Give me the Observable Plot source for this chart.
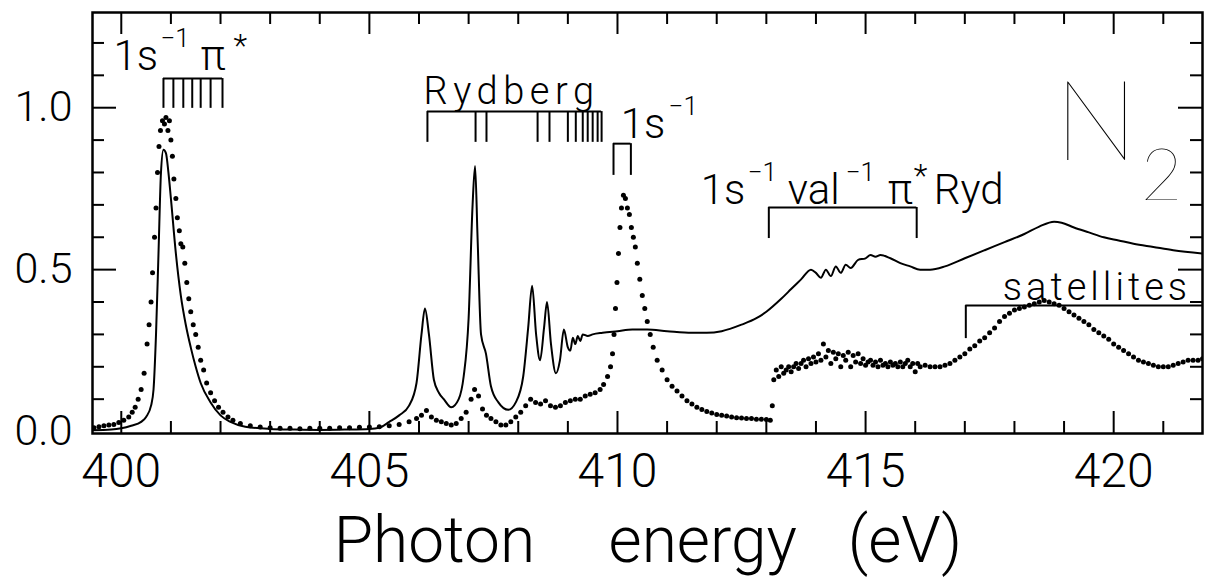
<!DOCTYPE html>
<html><head><meta charset="utf-8">
<script src="https://cdn.jsdelivr.net/npm/d3@7"></script>
<script src="https://cdn.jsdelivr.net/npm/@observablehq/plot@0.6"></script>
<style>
body{margin:0;background:#fff;}
</style></head><body><div id="chart"></div>
<script>
// ---- data ----
const solidEnergy = [
 399.42, 399.8, 400.0, 400.2, 400.4, 400.5, 400.6, 400.65, 400.7, 400.75,
 400.8, 400.85, 400.9, 400.95, 401.0, 401.1, 401.2, 401.3, 401.4, 401.5,
 401.6, 401.8, 402.0, 402.2, 402.5, 403.0, 403.5, 404.0, 404.5, 405.0,
 405.2, 405.4, 405.6, 405.8, 405.95, 406.05, 406.12, 406.2, 406.3, 406.4,
 406.5, 406.65, 406.8, 406.9, 407.0, 407.08, 407.13, 407.18, 407.25, 407.35,
 407.45, 407.6, 407.8, 407.95, 408.1, 408.2, 408.28, 408.36, 408.44, 408.52,
 408.58, 408.66, 408.76, 408.84, 408.92, 409.0, 409.05, 409.1, 409.15, 409.2,
 409.25, 409.3, 409.4, 409.5, 409.7, 410.0, 410.3, 410.6, 411.0, 411.5,
 411.8, 412.1, 412.5, 412.8, 413.0, 413.3, 413.5, 413.7, 413.9, 414.0,
 414.1, 414.2, 414.3, 414.4, 414.5, 414.6, 414.7, 414.85, 415.0, 415.1,
 415.2, 415.3, 415.5, 415.7, 415.9, 416.1, 416.3, 416.6, 417.0, 417.4,
 417.8, 418.2, 418.5, 418.8, 418.95, 419.2, 419.5, 419.8, 420.1, 420.4,
 420.8, 421.2, 421.79];
const solidValue = [
 0.004, 0.006, 0.01, 0.018, 0.03, 0.045, 0.08, 0.13, 0.3, 0.55,
 0.8, 0.87, 0.86, 0.8, 0.72, 0.55, 0.42, 0.33, 0.26, 0.2,
 0.15, 0.09, 0.05, 0.03, 0.015, 0.008, 0.006, 0.005, 0.006, 0.008,
 0.012, 0.03, 0.05, 0.08, 0.15, 0.3, 0.38, 0.3, 0.16, 0.12,
 0.1, 0.075, 0.1, 0.17, 0.35, 0.7, 0.82, 0.6, 0.3, 0.24,
 0.14, 0.09, 0.067, 0.09, 0.17, 0.32, 0.45, 0.3, 0.22, 0.32,
 0.40, 0.27, 0.18, 0.22, 0.315, 0.26, 0.25, 0.29, 0.27, 0.295,
 0.28, 0.3, 0.295, 0.3, 0.305, 0.31, 0.315, 0.315, 0.31, 0.305,
 0.305, 0.31, 0.33, 0.35, 0.37, 0.41, 0.44, 0.47, 0.5, 0.49,
 0.475, 0.5, 0.48, 0.51, 0.49, 0.515, 0.505, 0.53, 0.535, 0.545,
 0.54, 0.545, 0.535, 0.52, 0.51, 0.5, 0.5, 0.51, 0.535, 0.56,
 0.585, 0.61, 0.633, 0.648, 0.645, 0.63, 0.615, 0.6, 0.59, 0.58,
 0.57, 0.56, 0.55];

const dotEnergy = [
 399.45, 399.55, 399.65, 399.75, 399.85, 399.95, 400.05, 400.15, 400.22, 400.28,
 400.34, 400.4, 400.46, 400.52, 400.56, 400.6, 400.63, 400.67, 400.7, 400.73,
 400.76, 400.79, 400.83, 400.87, 400.9, 400.94, 400.97, 401.0, 401.03, 401.06,
 401.1, 401.13, 401.17, 401.2, 401.24, 401.28, 401.32, 401.36, 401.4, 401.45,
 401.5, 401.55, 401.6, 401.66, 401.72, 401.8, 401.88, 401.96, 402.05, 402.15,
 402.25, 402.4, 402.6, 402.8, 403.0, 403.2, 403.4, 403.6, 403.8, 404.0,
 404.2, 404.4, 404.6, 404.8, 405.0, 405.2, 405.4, 405.6, 405.8, 405.95,
 406.05, 406.15, 406.25, 406.35, 406.45, 406.55, 406.65, 406.75, 406.85, 406.95,
 407.05, 407.12, 407.2, 407.28, 407.36, 407.45, 407.55, 407.65, 407.75, 407.85,
 407.95, 408.05, 408.15, 408.25, 408.35, 408.45, 408.55, 408.65, 408.75, 408.85,
 408.95, 409.05, 409.15, 409.25, 409.35, 409.45, 409.55, 409.65, 409.72, 409.8,
 409.86, 409.9, 409.93, 409.96, 409.99, 410.02, 410.05, 410.08, 410.12, 410.16,
 410.2, 410.24, 410.28, 410.32, 410.36, 410.4, 410.45, 410.5, 410.55, 410.6,
 410.66, 410.72, 410.8, 410.9, 411.0, 411.1, 411.2, 411.3, 411.4, 411.5,
 411.6, 411.7, 411.8, 411.9, 412.0, 412.1, 412.2, 412.3, 412.4, 412.5,
 412.6, 412.7, 412.8, 412.9, 413.0, 413.08, 413.12, 413.15, 413.2, 413.25,
 413.3, 413.35, 413.4, 413.45, 413.5, 413.55, 413.6, 413.65, 413.7, 413.75,
 413.8, 413.85, 413.9, 413.95, 414.0, 414.05, 414.1, 414.15, 414.2, 414.25,
 414.3, 414.35, 414.4, 414.45, 414.5, 414.55, 414.6, 414.65, 414.7, 414.75,
 414.8, 414.85, 414.9, 414.95, 415.0, 415.05, 415.1, 415.15, 415.2, 415.25,
 415.3, 415.35, 415.4, 415.45, 415.5, 415.55, 415.6, 415.65, 415.7, 415.75,
 415.8, 415.85, 415.9, 415.95, 416.0, 416.05, 416.1, 416.2, 416.3, 416.4,
 416.5, 416.6, 416.7, 416.8, 416.9, 417.0, 417.1, 417.2, 417.3, 417.4,
 417.5, 417.6, 417.7, 417.8, 417.9, 418.0, 418.1, 418.2, 418.3, 418.4,
 418.5, 418.6, 418.7, 418.8, 418.9, 419.0, 419.1, 419.2, 419.3, 419.4,
 419.5, 419.6, 419.7, 419.8, 419.9, 420.0, 420.1, 420.2, 420.3, 420.4,
 420.5, 420.6, 420.7, 420.8, 420.9, 421.0, 421.1, 421.2, 421.3, 421.4,
 421.5, 421.6, 421.7, 421.79];
const dotValue = [
 0.012, 0.015, 0.018, 0.02, 0.022, 0.028, 0.035, 0.045, 0.06, 0.075,
 0.1, 0.13, 0.18, 0.27, 0.33, 0.4, 0.49, 0.6, 0.69, 0.8,
 0.88, 0.93, 0.96, 0.95, 0.97, 0.93, 0.96, 0.9, 0.85, 0.78,
 0.72, 0.66, 0.62, 0.58, 0.57, 0.52, 0.46, 0.41, 0.37, 0.33,
 0.3, 0.26, 0.22, 0.19, 0.15, 0.12, 0.095, 0.075, 0.06, 0.045,
 0.035, 0.025, 0.018, 0.014, 0.012, 0.01, 0.01, 0.009, 0.01, 0.01,
 0.01, 0.012, 0.012, 0.013, 0.014, 0.015, 0.018, 0.022, 0.03, 0.04,
 0.05, 0.065, 0.045, 0.035, 0.03, 0.025, 0.02, 0.025, 0.04, 0.06,
 0.1, 0.13, 0.11, 0.07, 0.05, 0.04, 0.03, 0.02, 0.02, 0.03,
 0.045, 0.06, 0.08, 0.1, 0.09, 0.085, 0.095, 0.08, 0.075, 0.08,
 0.09, 0.095, 0.1, 0.1, 0.11, 0.115, 0.12, 0.13, 0.145, 0.17,
 0.2, 0.24, 0.3, 0.38, 0.46, 0.55, 0.63, 0.69, 0.73, 0.72,
 0.69, 0.67, 0.63, 0.6, 0.57, 0.52, 0.47, 0.42, 0.38, 0.34,
 0.3, 0.26, 0.22, 0.19, 0.16, 0.14, 0.125, 0.11, 0.095, 0.085,
 0.075, 0.068, 0.062, 0.057, 0.053, 0.05, 0.048, 0.045, 0.043, 0.042,
 0.04, 0.04, 0.038, 0.038, 0.037, 0.035, 0.08, 0.16, 0.19, 0.17,
 0.2, 0.18, 0.19, 0.2, 0.185, 0.2, 0.21, 0.195, 0.21, 0.22,
 0.2, 0.225, 0.21, 0.23, 0.215, 0.24, 0.22, 0.27, 0.23, 0.25,
 0.21, 0.245, 0.225, 0.24, 0.2, 0.235, 0.22, 0.245, 0.2, 0.235,
 0.215, 0.24, 0.21, 0.225, 0.205, 0.215, 0.22, 0.205, 0.215, 0.2,
 0.22, 0.205, 0.21, 0.2, 0.215, 0.205, 0.21, 0.2, 0.215, 0.2,
 0.21, 0.22, 0.2, 0.21, 0.185, 0.21, 0.2, 0.205, 0.2, 0.2,
 0.2, 0.205, 0.21, 0.22, 0.23, 0.24, 0.255, 0.265, 0.28, 0.29,
 0.305, 0.32, 0.34, 0.355, 0.365, 0.375, 0.38, 0.385, 0.39, 0.395,
 0.4, 0.405, 0.4, 0.395, 0.39, 0.38, 0.37, 0.36, 0.35, 0.34,
 0.33, 0.315, 0.305, 0.295, 0.285, 0.27, 0.26, 0.25, 0.24, 0.23,
 0.22, 0.215, 0.21, 0.205, 0.2, 0.2, 0.2, 0.205, 0.21, 0.215,
 0.22, 0.22, 0.22, 0.225];

// level combs (eV)
const piStarLevels = [400.85, 401.05, 401.25, 401.43, 401.6, 401.8, 402.04];
const rydbergLevels = [406.17, 407.14, 407.36, 408.39, 408.63, 409.0, 409.16, 409.3, 409.4, 409.5, 409.6, 409.68];
const ionizationEdge = [409.92, 410.27];
const doubleExcitation = [413.05, 416.03];
const satelliteStart = [417.02];

// axis ticks and labels
const xTickLabels = [400, 405, 410, 415, 420];
const xMinorTicks = [401,402,403,404,406,407,408,409,411,412,413,414,416,417,418,419,421];
const yTickLabels = [0.0, 0.5, 1.0];
const yMajorTicks = [0.5, 1.0];
const yMinorTicks = [0.1,0.2,0.3,0.4,0.6,0.7,0.8,0.9,1.1,1.2];
const titleWords = ["Photon", "energy", "(eV)"];

// ---- build ----
const solid = solidEnergy.map((e, i) => ({e, v: solidValue[i]}));
const dots = dotEnergy.map((e, i) => ({e, v: dotValue[i]}));

const W = 1207, H = 579, mL = 92, mR = 5, mT = 12, mB = 146;
const fW = W - mL - mR, fH = H - mT - mB;
const FONT = "Roboto, 'Liberation Sans', sans-serif";
const THIN = "Lato, Roboto, sans-serif";

function label(t, x, y, size, desc, weight = 300, family = FONT) {
  return Plot.text([{t, x, y}], {x: "x", y: "y", text: "t", fontSize: size, fontWeight: weight, fontFamily: family,
    textAnchor: "start", lineAnchor: "bottom", ariaDescription: desc || null});
}
function comb(levels, yTop, yBot, x2) {
  const xs = levels;
  return [
    Plot.ruleY([yTop], {x1: xs[0], x2: x2 ?? xs[xs.length - 1], strokeWidth: 2}),
    Plot.ruleX(xs, {x: d => d, y1: yBot, y2: yTop, strokeWidth: 2})
  ];
}
const titleX = [404.28, 409.82, 414.64];

const chart = Plot.plot({
  width: W, height: H,
  marginLeft: mL, marginRight: mR, marginTop: mT, marginBottom: mB,
  style: {fontFamily: FONT, fontWeight: 300, background: "white", color: "black"},
  x: {domain: [399.42, 421.79], axis: null},
  y: {domain: [-0.006, 1.294], axis: null},
  marks: [
    // tick labels (through the scales)
    Plot.text(xTickLabels, {x: d => d, frameAnchor: "bottom", dy: 19, lineAnchor: "top", textAnchor: "middle",
      text: d => String(d), fontSize: 48, fontWeight: 300}),
    Plot.text(yTickLabels, {y: d => d, frameAnchor: "left", dx: -20, lineAnchor: "middle", textAnchor: "end",
      text: d => d.toFixed(1), fontSize: 43, fontWeight: 300}),
    // inward ticks on all four sides
    Plot.tickX(xMinorTicks, {x: d => d, insetTop: fH - 12, strokeWidth: 2}),
    Plot.tickX(xTickLabels, {x: d => d, insetTop: fH - 22, strokeWidth: 2}),
    Plot.tickX(xMinorTicks, {x: d => d, insetBottom: fH - 12, strokeWidth: 2}),
    Plot.tickX(xTickLabels, {x: d => d, insetBottom: fH - 22, strokeWidth: 2}),
    Plot.tickY(yMinorTicks, {y: d => d, insetRight: fW - 12, strokeWidth: 2}),
    Plot.tickY(yMajorTicks, {y: d => d, insetRight: fW - 24, strokeWidth: 2}),
    Plot.tickY(yMinorTicks, {y: d => d, insetLeft: fW - 12, strokeWidth: 2}),
    Plot.tickY(yMajorTicks, {y: d => d, insetLeft: fW - 24, strokeWidth: 2}),
    Plot.frame({strokeWidth: 2.5}),
    // data
    Plot.line(solid, {x: "e", y: "v", curve: "monotone-x", strokeWidth: 2, clip: true}),
    Plot.dot(dots, {x: "e", y: "v", r: 2.5, fill: "black", stroke: null, clip: true}),
    // level combs
    ...comb(piStarLevels, 1.090, 0.998),
    ...comb(rydbergLevels, 0.988, 0.893),
    ...comb(ionizationEdge, 0.889, 0.791),
    ...comb(doubleExcitation, 0.692, 0.596),
    ...comb(satelliteStart, 0.389, 0.287, 421.79),
    // annotations
    label("1s", 399.843, 1.115, 42),
    label("\u22121", 400.79, 1.186, 26),
    label("\u03c0", 401.597, 1.115, 42),
    label("*", 402.263, 1.161, 32),
    label("Rydberg", 406.093, 1.013, 38, "spaced5"),
    label("1s", 410.065, 0.908, 42),
    label("\u22121", 411.03, 0.979, 26),
    label("1s", 411.678, 0.704, 42),
    label("\u22121", 412.626, 0.775, 26),
    label("val", 413.432, 0.704, 42),
    label("\u22121", 414.601, 0.775, 26),
    label("\u03c0", 415.448, 0.704, 42),
    label("*", 415.972, 0.757, 32),
    label("Ryd", 416.375, 0.704, 42),
    label("N", 418.80, 0.837, 112, null, 200, THIN),
    label("2", 420.548, 0.7135, 72, null, 200, THIN),
    label("satellites", 417.766, 0.405, 38, "spaced4"),
    Plot.text(titleWords, {x: (d, i) => titleX[i], frameAnchor: "bottom", dy: 128, textAnchor: "start",
      lineAnchor: "bottom", fontSize: 64, fontWeight: 300})
  ]
});

chart.querySelectorAll('g[aria-description="spaced5"] text').forEach(t => t.setAttribute("letter-spacing", "5.5"));
chart.querySelectorAll('g[aria-description="spaced4"] text').forEach(t => t.setAttribute("letter-spacing", "4"));
document.getElementById("chart").appendChild(chart);
</script>
</body></html>
